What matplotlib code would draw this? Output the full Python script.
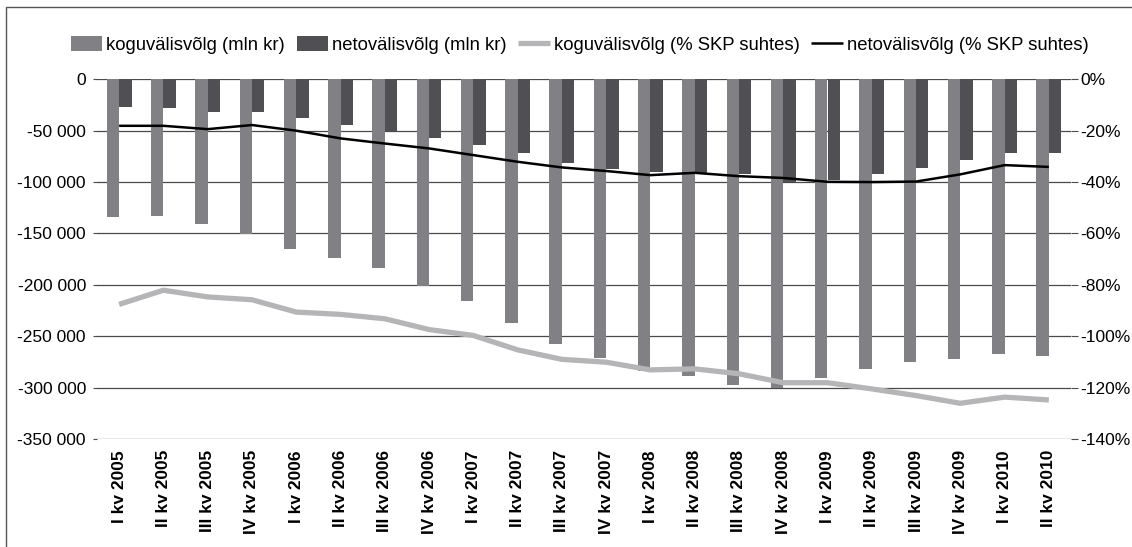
import matplotlib

matplotlib.use("Agg")

import matplotlib.pyplot as plt
import numpy as np
from matplotlib.legend_handler import HandlerPatch
from matplotlib.patches import Rectangle
from matplotlib.ticker import FuncFormatter

plt.rcParams["font.family"] = ["Liberation Sans", "DejaVu Sans"]

# quarters, I kv 2005 .. II kv 2010
quarters = [
    "I kv 2005", "II kv 2005", "III kv 2005", "IV kv 2005",
    "I kv 2006", "II kv 2006", "III kv 2006", "IV kv 2006",
    "I kv 2007", "II kv 2007", "III kv 2007", "IV kv 2007",
    "I kv 2008", "II kv 2008", "III kv 2008", "IV kv 2008",
    "I kv 2009", "II kv 2009", "III kv 2009", "IV kv 2009",
    "I kv 2010", "II kv 2010",
]
# mln kr (left axis)
gross_debt = [
    -134000, -133000, -140500, -150500, -165000, -173800, -183500, -200800,
    -216000, -237000, -257600, -271500, -284000, -289000, -297300, -300000,
    -291000, -282000, -275500, -272200, -267300, -269600,
]
net_debt = [
    -27000, -28000, -31900, -31900, -38000, -44500, -50300, -57200,
    -64000, -72100, -81900, -87000, -90300, -91000, -92600, -100000,
    -98100, -92600, -86400, -78600, -72100, -72100,
]
# % of GDP (right axis)
gross_pct = [
    -87.6, -82.1, -84.7, -85.8, -90.6, -91.5, -93.2, -97.4,
    -99.7, -105.3, -109.0, -110.1, -113.1, -112.7, -114.6, -118.1,
    -118.1, -120.5, -123.1, -126.1, -123.7, -124.8,
]
net_pct = [
    -18.1, -18.1, -19.4, -17.8, -20.0, -23.0, -25.0, -26.9,
    -29.5, -32.1, -34.3, -35.7, -37.3, -36.4, -37.7, -38.4,
    -39.9, -40.0, -39.8, -37.0, -33.4, -34.1,
]

C_GROSS = "#818085"
C_NET = "#504f54"
C_GROSS_LINE = "#b5b5b8"
C_GRID = "#4a4a4a"

W, H = 1132, 547
fig = plt.figure(figsize=(W / 100, H / 100), dpi=100)
ax = fig.add_axes([97 / W, 1 - 439 / H, (1071 - 97) / W, (439 - 79.3) / H])
ax2 = ax.twinx()

x = np.arange(len(quarters))
bw = 0.28
b1 = ax.bar(x - bw / 2, gross_debt, bw, color=C_GROSS, zorder=2,
            label="koguvälisvõlg (mln kr)")
b2 = ax.bar(x + bw / 2, net_debt, bw, color=C_NET, zorder=2,
            label="netovälisvõlg (mln kr)")
l1, = ax2.plot(x, gross_pct, color=C_GROSS_LINE, lw=3.8, solid_capstyle="butt",
               label="koguvälisvõlg (% SKP suhtes)")
l2, = ax2.plot(x, net_pct, color="black", lw=1.8, solid_capstyle="butt",
               label="netovälisvõlg (% SKP suhtes)")

ax.set_xlim(-0.5, len(quarters) - 0.5)
ax.set_ylim(-350000, 0)
ax.set_yticks(np.arange(-350000, 1, 50000))
ax.yaxis.set_major_formatter(FuncFormatter(lambda v, p: f"{int(v):,}".replace(",", " ")))
ax2.set_ylim(-140, 0)
ax2.set_yticks(np.arange(-140, 1, 20))
ax2.yaxis.set_major_formatter(FuncFormatter(lambda v, p: f"{int(v)}%"))

ax.grid(True, axis="y", color=C_GRID, lw=0.9, zorder=0)
ax.set_axisbelow(True)
for a in (ax, ax2):
    for s in a.spines.values():
        s.set_visible(False)

ax.tick_params(axis="y", length=3, color=C_GRID, labelsize=12.5, pad=5)
ax2.tick_params(axis="y", length=5, color=C_GRID, labelsize=12.5, pad=2)
ax.set_xticks(x)
ax.set_xticklabels(quarters, rotation=90, fontsize=12.5, fontweight="bold")
ax.tick_params(axis="x", length=0, pad=8)


def narrow_box(legend, orig_handle, xdescent, ydescent, width, height, fontsize):
    w = 0.72 * width
    return Rectangle((width - w - xdescent, -ydescent), w, height)


fig.legend(handles=[b1, b2, l1, l2], loc="center", bbox_to_anchor=(0.512, 1 - 45 / H),
           ncol=4, frameon=False, fontsize=13.3, handlelength=1.7, handleheight=0.9,
           handletextpad=0.2, columnspacing=0.65, borderaxespad=0,
           handler_map={Rectangle: HandlerPatch(patch_func=narrow_box)})

fig.patches.append(Rectangle((6 / W, -0.05), 1.2, 1.05 - 7 / H, transform=fig.transFigure,
                             fill=False, edgecolor="#555555", lw=1.0))

fig.savefig("out.png", dpi=100)
